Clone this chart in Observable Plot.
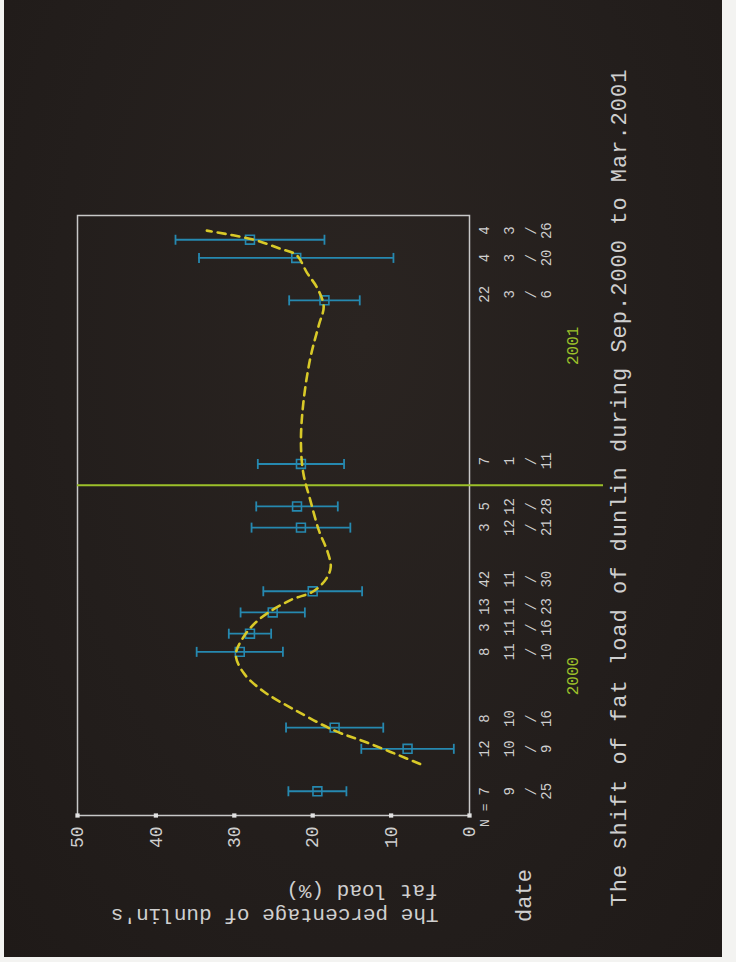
<!DOCTYPE html>
<html>
<head>
<meta charset="utf-8">
<script src="https://cdn.jsdelivr.net/npm/d3@7"></script>
<script src="https://cdn.jsdelivr.net/npm/@observablehq/plot@0.6"></script>
<style>
  html, body { margin: 0; padding: 0; background: #f3f3f1; }
  #page { position: relative; width: 736px; height: 962px; overflow: hidden; background: #f3f3f1; }
  #bg { position: absolute; left: 4px; top: 0; width: 718px; height: 957px;
        background: radial-gradient(ellipse at 50% 35%, #2a2421 0%, #231e1c 60%, #1f1a18 100%); }
  #chart { position: absolute; left: 0; top: 0; width: 962px; height: 736px;
           transform-origin: 0 0; transform: translate(0, 962px) rotate(-90deg); }
</style>
</head>
<body>
<div id="page"><div id="bg"></div><div id="chart"></div></div>
<script>
// ---- data ----
const sampleDates = ["2000-09-25","2000-10-09","2000-10-16","2000-11-10","2000-11-16","2000-11-23","2000-11-30",
                     "2000-12-21","2000-12-28","2001-01-11","2001-03-06","2001-03-20","2001-03-26"];
const meanFat  = [19.4, 7.9, 17.2, 29.3, 28.0, 25.1, 20.0, 21.5, 22.0, 21.5, 18.5, 22.1, 28.0];
const errFat   = [3.7, 5.9, 6.2, 5.5, 2.7, 4.1, 6.3, 6.3, 5.2, 5.5, 4.5, 12.4, 9.5];
const sampleN  = [7, 12, 8, 8, 3, 13, 42, 3, 5, 7, 22, 4, 4];
// where each column of labels sits under the axis
const labelDates = ["2000-09-25","2000-10-09","2000-10-19","2000-11-10","2000-11-18","2000-11-25","2000-12-04",
                    "2000-12-21","2000-12-28","2001-01-12","2001-03-08","2001-03-20","2001-03-29"];
// fitted dashed curve
const curveDates = ["2000-10-04","2000-10-11","2000-10-15","2000-10-22","2000-10-28","2000-11-03","2000-11-09",
                    "2000-11-15","2000-11-21","2000-11-27","2000-11-30","2000-12-04","2000-12-08","2000-12-13",
                    "2000-12-20","2000-12-30","2001-01-08","2001-01-18","2001-01-31","2001-02-15","2001-02-26",
                    "2001-03-04","2001-03-10","2001-03-15","2001-03-21","2001-03-23","2001-03-26","2001-03-29"];
const curveFat   = [6.3, 13.0, 17.2, 22.4, 26.3, 28.8, 29.8, 28.8, 26.7, 22.9, 19.9, 18.3, 17.7, 18.1,
                    19.2, 20.3, 21.2, 21.5, 21.2, 20.3, 19.2, 18.6, 19.4, 20.7, 22.1, 24.1, 27.5, 33.5];
const yearNames = ["2000", "2001"];
const yearDates = ["2000-11-02", "2001-02-19"];
const boundaryDates = ["2001-01-04"];
const valueTicks = [0, 10, 20, 30, 40, 50];
const xDomain = ["2000-09-17", "2001-04-03"];
const yDomain = [0, 50];
const titleText = "The shift of fat load of dunlin during Sep.2000 to Mar.2001";
const yLabelLines = ["The percentage of dunlin's", "fat load (%)"];
const nLabel = "N =";
const dateLabel = "date";

// ---- build tables ----
const fmtM = d3.utcFormat("%-m"), fmtD = d3.utcFormat("%-d");
const samples = sampleDates.map((d, i) => ({
  date: new Date(d), mean: meanFat[i], lo: meanFat[i] - errFat[i], hi: meanFat[i] + errFat[i],
  n: sampleN[i], labelDate: new Date(labelDates[i]),
  month: fmtM(new Date(d)), day: fmtD(new Date(d))
}));
const curve = curveDates.map((d, i) => ({date: new Date(d), fat: curveFat[i]}));
const years = yearNames.map((t, i) => ({date: new Date(yearDates[i]), text: t}));
const boundary = boundaryDates.map(d => new Date(d));

const teal = "#2689b0", yellow = "#d8c928", green = "#9cc02a", ink = "#cfcfcf";
const cap = {draw(ctx) { ctx.moveTo(-5, 0); ctx.lineTo(5, 0); }};

const svg = Plot.plot({
  width: 962, height: 736,
  marginLeft: 146, marginRight: 216, marginTop: 77, marginBottom: 267,
  style: {background: "transparent", color: ink, fontFamily: "Liberation Mono"},
  x: {type: "utc", domain: xDomain.map(d => new Date(d)), axis: null},
  y: {domain: yDomain, axis: null},
  marks: [
    Plot.frame({stroke: "#c8c8c8", strokeWidth: 1.5}),
    Plot.axisY(valueTicks, {tickSize: 0, tickPadding: 11, fontSize: 18, fill: ink, label: null}),
    Plot.dot(valueTicks, {y: d => d, frameAnchor: "left", symbol: "square", r: 2.4, fill: "#e2e2e2"}),
    Plot.ruleX(boundary, {x: d => d, stroke: green, strokeWidth: 2, insetBottom: -134}),
    Plot.ruleX(samples, {x: "date", y1: "lo", y2: "hi", stroke: teal, strokeWidth: 1.8}),
    Plot.dot(samples, {x: "date", y: "lo", symbol: cap, stroke: teal, strokeWidth: 1.8}),
    Plot.dot(samples, {x: "date", y: "hi", symbol: cap, stroke: teal, strokeWidth: 1.8}),
    Plot.dot(samples, {x: "date", y: "mean", symbol: "square", r: 5, stroke: teal, strokeWidth: 1.6, fill: "none"}),
    Plot.line(curve, {x: "date", y: "fat", curve: "catmull-rom", stroke: yellow, strokeWidth: 2.6, strokeDasharray: "8,6"}),
    // labels under the time axis
    Plot.text([nLabel], {frameAnchor: "bottom-left", dx: 12, dy: 19, textAnchor: "end", fontSize: 13, fill: ink}),
    Plot.text(samples, {x: "labelDate", text: d => String(d.n), frameAnchor: "bottom", dy: 19, fontSize: 14, fill: ink}),
    Plot.text(samples, {x: "labelDate", text: "month", frameAnchor: "bottom", dy: 44, fontSize: 14, fill: ink}),
    Plot.text(samples, {x: "labelDate", text: () => "/", frameAnchor: "bottom", dy: 66, fontSize: 14, fill: ink}),
    Plot.text(samples, {x: "labelDate", text: "day", frameAnchor: "bottom", dy: 81, fontSize: 14, fill: ink}),
    Plot.text(years, {x: "date", text: "text", frameAnchor: "bottom", dy: 108, fontSize: 16, fill: green}),
    Plot.text([dateLabel], {frameAnchor: "bottom-left", dx: -80, dy: 61, textAnchor: "middle", fontSize: 22, fill: ink}),
    Plot.text([yLabelLines[0]], {frameAnchor: "bottom-left", dx: -93, dy: -31, rotate: -90, textAnchor: "start", fontSize: 21, fill: ink}),
    Plot.text([yLabelLines[1]], {frameAnchor: "bottom-left", dx: -69, dy: -32, rotate: -90, textAnchor: "start", fontSize: 21, fill: ink}),
    Plot.text([titleText], {frameAnchor: "bottom-left", dx: -91, dy: 156, textAnchor: "start", fontSize: 22, fill: ink})
  ]
});
svg.querySelectorAll("text").forEach(t => {
  if (t.textContent === titleText) t.style.letterSpacing = "1px";
});
document.getElementById("chart").appendChild(svg);
</script>
</body>
</html>
